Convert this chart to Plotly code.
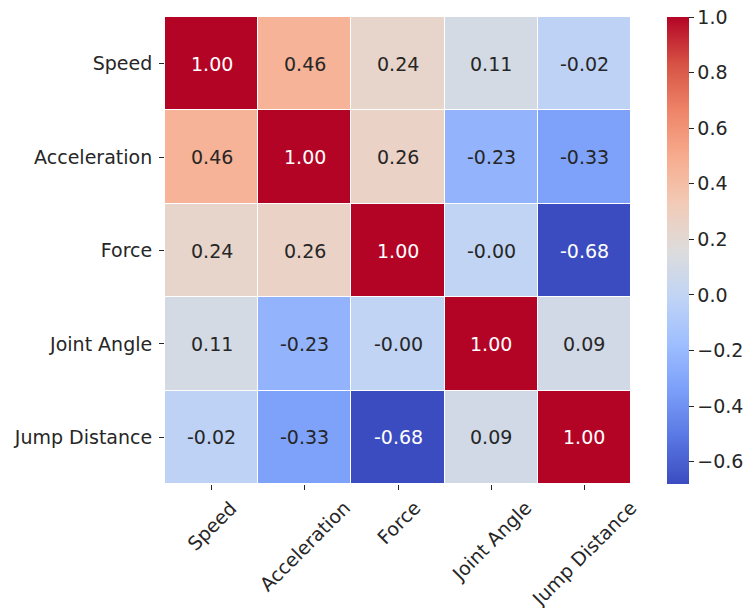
import plotly.graph_objects as go

labels = ["Speed", "Acceleration", "Force", "Joint Angle", "Jump Distance"]
corr = [
    [1.00, 0.46, 0.24, 0.11, -0.02],
    [0.46, 1.00, 0.26, -0.23, -0.33],
    [0.24, 0.26, 1.00, -0.00, -0.68],
    [0.11, -0.23, -0.00, 1.00, 0.09],
    [-0.02, -0.33, -0.68, 0.09, 1.00],
]
cbar_ticks = [-0.6, -0.4, -0.2, 0.0, 0.2, 0.4, 0.6, 0.8, 1.0]

coolwarm = [
    [0.0, "#3b4cc0"], [0.1, "#5977e3"], [0.2, "#7b9ff9"], [0.3, "#9ebeff"],
    [0.4, "#c0d4f5"], [0.5, "#dddcdc"], [0.6, "#f2cbb7"], [0.7, "#f7ac8e"],
    [0.8, "#ee8468"], [0.9, "#d65244"], [1.0, "#b40426"],
]

zmin = min(min(r) for r in corr)
zmax = max(max(r) for r in corr)
FONT = "DejaVu Sans"
FS = 19

fig = go.Figure(go.Heatmap(
    z=corr, x=labels, y=labels,
    colorscale=coolwarm, zmin=zmin, zmax=zmax,
    xgap=1, ygap=1,
    colorbar=dict(
        x=1.077, xanchor="left", xref="paper",
        y=0, yanchor="bottom", len=1, lenmode="fraction",
        thickness=22, outlinewidth=0, xpad=0, ypad=0,
        tickvals=cbar_ticks, ticktext=[f"{v:.1f}".replace("-", "\u2212") for v in cbar_ticks],
        ticks="outside", ticklen=5, tickwidth=1, tickcolor="#262626",
        ticklabeloverflow="allow",
        tickfont=dict(family=FONT, size=FS, color="#262626"),
    ),
    showscale=True,
    hoverinfo="skip",
))

annotations = []
for i, row in enumerate(corr):
    for j, v in enumerate(row):
        txt = f"{v:.2f}"
        light = (v < -0.6) or (v > 0.8)
        annotations.append(dict(
            x=labels[j], y=labels[i], text=txt, showarrow=False,
            font=dict(family=FONT, size=FS, color="white" if light else "#262626"),
        ))
for j, lab in enumerate(labels):
    annotations.append(dict(
        x=lab, xref="x", y=0, yref="paper", yanchor="top", xanchor="center",
        yshift=-10, text=lab, textangle=-45, showarrow=False,
        font=dict(family=FONT, size=FS, color="#262626"),
    ))

n = len(labels)
fig.update_layout(
    width=744, height=600,
    margin=dict(l=157, r=121, t=9, b=124, autoexpand=False),
    paper_bgcolor="white", plot_bgcolor="white",
    annotations=annotations,
    xaxis=dict(range=[-0.5, n - 0.5], autorange=False, showticklabels=False,
               ticks="outside", ticklen=5, tickcolor="#262626",
               showgrid=False, zeroline=False, showline=False),
    yaxis=dict(range=[n - 0.5, -0.5], autorange=False, ticks="outside", ticklen=5,
               tickcolor="#262626",
               tickfont=dict(family=FONT, size=FS, color="#262626"),
               showgrid=False, zeroline=False, showline=False, ticklabelstandoff=3),
)

fig.write_html("out.html")
